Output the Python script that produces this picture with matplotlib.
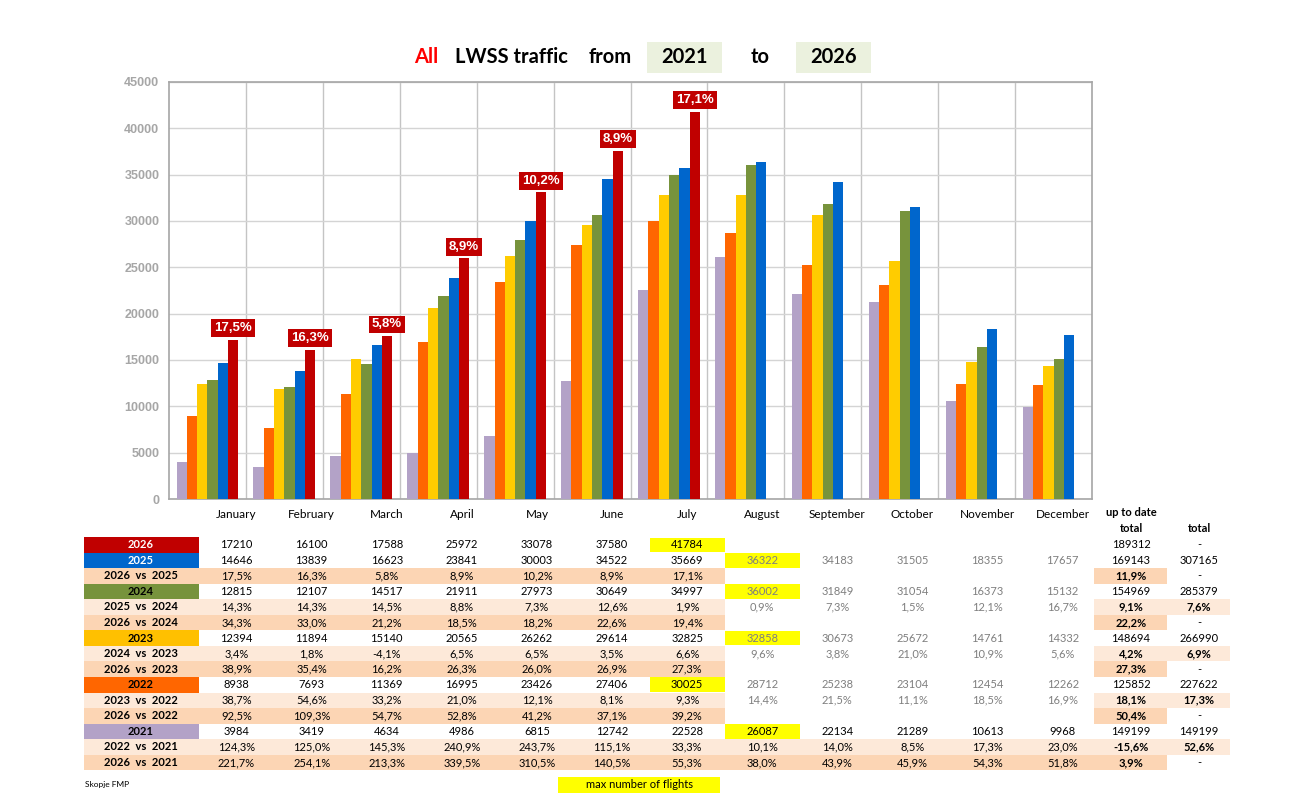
import numpy as np
import matplotlib
matplotlib.use('Agg')
import matplotlib.pyplot as plt
from matplotlib.patches import Rectangle

# ---- data ----
months = ['January', 'February', 'March', 'April', 'May', 'June', 'July',
          'August', 'September', 'October', 'November', 'December']
years = [2021, 2022, 2023, 2024, 2025, 2026]
v2021 = [3984, 3419, 4634, 4986, 6815, 12742, 22528, 26087, 22134, 21289, 10613, 9968]
v2022 = [8938, 7693, 11369, 16995, 23426, 27406, 30025, 28712, 25238, 23104, 12454, 12262]
v2023 = [12394, 11894, 15140, 20565, 26262, 29614, 32825, 32858, 30673, 25672, 14761, 14332]
v2024 = [12815, 12107, 14517, 21911, 27973, 30649, 34997, 36002, 31849, 31054, 16373, 15132]
v2025 = [14646, 13839, 16623, 23841, 30003, 34522, 35669, 36322, 34183, 31505, 18355, 17657]
v2026 = [17210, 16100, 17588, 25972, 33078, 37580, 41784]
series = [v2021, v2022, v2023, v2024, v2025, v2026]
colors = ['#B3A2C7', '#FF6600', '#FFCC00', '#77933C', '#0066CC', '#C00000']

utd_total = {2026: '189312', 2025: '169143', 2024: '154969', 2023: '148694', 2022: '125852', 2021: '149199'}
year_total = {2026: '-', 2025: '307165', 2024: '285379', 2023: '266990', 2022: '227622', 2021: '149199'}

p26_25 = ['17,5%', '16,3%', '5,8%', '8,9%', '10,2%', '8,9%', '17,1%']
p25_24 = ['14,3%', '14,3%', '14,5%', '8,8%', '7,3%', '12,6%', '1,9%', '0,9%', '7,3%', '1,5%', '12,1%', '16,7%']
p26_24 = ['34,3%', '33,0%', '21,2%', '18,5%', '18,2%', '22,6%', '19,4%']
p24_23 = ['3,4%', '1,8%', '-4,1%', '6,5%', '6,5%', '3,5%', '6,6%', '9,6%', '3,8%', '21,0%', '10,9%', '5,6%']
p26_23 = ['38,9%', '35,4%', '16,2%', '26,3%', '26,0%', '26,9%', '27,3%']
p23_22 = ['38,7%', '54,6%', '33,2%', '21,0%', '12,1%', '8,1%', '9,3%', '14,4%', '21,5%', '11,1%', '18,5%', '16,9%']
p26_22 = ['92,5%', '109,3%', '54,7%', '52,8%', '41,2%', '37,1%', '39,2%']
p22_21 = ['124,3%', '125,0%', '145,3%', '240,9%', '243,7%', '115,1%', '33,3%', '10,1%', '14,0%', '8,5%', '17,3%', '23,0%']
p26_21 = ['221,7%', '254,1%', '213,3%', '339,5%', '310,5%', '140,5%', '55,3%', '38,0%', '43,9%', '45,9%', '54,3%', '51,8%']
pct_utd = {'2026  vs  2025': '11,9%', '2025  vs  2024': '9,1%', '2026  vs  2024': '22,2%',
           '2024  vs  2023': '4,2%', '2026  vs  2023': '27,3%', '2023  vs  2022': '18,1%',
           '2026  vs  2022': '50,4%', '2022  vs  2021': '-15,6%', '2026  vs  2021': '3,9%'}
pct_tot = {'2025  vs  2024': '7,6%', '2024  vs  2023': '6,9%', '2023  vs  2022': '17,3%',
           '2022  vs  2021': '52,6%'}

W, H = 1312, 801
fig = plt.figure(figsize=(W / 100, H / 100), dpi=100)

# overlay in pixel coordinates for title and table
tab = fig.add_axes([0, 0, 1, 1])
tab.set_xlim(0, W)
tab.set_ylim(H, 0)
tab.axis('off')

TF = 'Lato'


def put(x, y, s, size=8, color='black', weight='normal', ha='center', family=TF):
    tab.text(x, y, s, fontsize=size, color=color, fontweight=weight, ha=ha, va='center',
             family=family)


def box(x0, y0, x1, y1, fc):
    tab.add_patch(Rectangle((x0, y0), x1 - x0, y1 - y0, fc=fc, ec='none', zorder=0))


# title
put(426, 57, 'All', 14.5, '#FF0000', 'bold')
put(455, 57, 'LWSS traffic', 14.5, 'black', 'bold', ha='left')
put(610, 57, 'from', 14.5, 'black', 'bold')
box(647, 42, 722, 73, '#EBF1DE')
put(685, 57, str(years[0]), 14.5, 'black', 'bold')
put(760, 57, 'to', 14.5, 'black', 'bold')
box(796, 42, 871, 73, '#EBF1DE')
put(834, 57, str(years[-1]), 14.5, 'black', 'bold')

# ---- chart ----
ax = fig.add_axes([169 / W, 1 - 499 / H, 923 / W, 417 / H])
x = np.arange(len(months))
bw = 0.134
for i, (vals, c) in enumerate(zip(series, colors)):
    ax.bar(x[:len(vals)] + (i - 2.5) * bw, vals, bw, color=c, zorder=3)

for i, (v, p) in enumerate(zip(v2026, p26_25)):
    ax.annotate(p, (x[i] + 2.5 * bw, v), xytext=(0, 4), textcoords='offset points',
                ha='center', va='bottom', color='white', fontsize=9.5, fontweight='bold',
                family='Liberation Sans', zorder=5,
                bbox=dict(boxstyle='square,pad=0.22', fc='#C00000', ec='none'))

ax.set_xlim(-0.5, 11.5)
ax.set_ylim(0, 45000)
ax.set_yticks(np.arange(0, 45001, 5000))
ax.set_xticks([])
ax.set_xticks(np.arange(0.5, 11.5, 1), minor=True)
ax.tick_params(axis='x', which='both', length=0)
ax.tick_params(axis='y', length=0, pad=7, labelcolor='#A6A6A6', labelsize=9)
for t in ax.get_yticklabels():
    t.set_fontweight('bold')
    t.set_family('Liberation Sans')
ax.grid(axis='y', color='#D4D4D4', lw=1, zorder=0)
ax.grid(axis='x', which='minor', color='#C4C4C4', lw=1, zorder=0)
for s in ax.spines.values():
    s.set_color('#A6A6A6')
    s.set_linewidth(1.2)
ax.patch.set_alpha(0)

# ---- table ----
col_l, col_w = 199, 75.1
cx = [col_l + col_w * (k + 0.5) for k in range(12)]
utd_x, tot_x = 1131, 1199
row_t, row_h = 537, 15.55
GREY = '#7F7F7F'
DARK, LIGHT = '#FCD5B4', '#FDE9D9'

for k, m in enumerate(months):
    put(cx[k], 514, m, 8.5)
put(utd_x, 513, 'up to date', 8, weight='bold')
put(utd_x, 529, 'total', 8, weight='bold')
put(tot_x, 529, 'total', 8, weight='bold')

# rows: (label, kind, values)
rows = [
    ('2026', 'year', v2026), ('2025', 'year', v2025), ('2026  vs  2025', 'dark', p26_25),
    ('2024', 'year', v2024), ('2025  vs  2024', 'light', p25_24), ('2026  vs  2024', 'dark', p26_24),
    ('2023', 'year', v2023), ('2024  vs  2023', 'light', p24_23), ('2026  vs  2023', 'dark', p26_23),
    ('2022', 'year', v2022), ('2023  vs  2022', 'light', p23_22), ('2026  vs  2022', 'dark', p26_22),
    ('2021', 'year', v2021), ('2022  vs  2021', 'light', p22_21), ('2026  vs  2021', 'dark', p26_21),
]
grey_rows = {'2025', '2024', '2023', '2022', '2025  vs  2024', '2024  vs  2023', '2023  vs  2022'}
ycol = dict(zip([str(y) for y in years], colors))
ycol['2023'] = '#FFC000'

for r, (lab, kind, vals) in enumerate(rows):
    y0 = row_t + r * row_h
    y1 = y0 + row_h
    yc = y0 + row_h / 2
    full = len(vals) == 12 and lab.endswith('2021')
    if kind == 'year':
        box(84, y0, 199, y1, ycol[lab])
        tc = 'white' if lab in ('2026', '2025') else 'black'
        put(141, yc, lab, 8, tc, 'bold')
        imax = int(np.argmax(vals))
        box(cx[imax] - col_w / 2, y0 + 0.5, cx[imax] + col_w / 2, y1 - 0.5, '#FFFF00')
        for k, v in enumerate(vals):
            c = GREY if (k >= 7 and lab in grey_rows) else 'black'
            put(cx[k], yc, str(v), 8, c)
        put(utd_x, yc, utd_total[int(lab)], 8)
        put(tot_x, yc, year_total[int(lab)], 8)
    else:
        fc = DARK if kind == 'dark' else LIGHT
        right = cx[11] + col_w / 2 if full else cx[6] + col_w / 2
        box(84, y0, right, y1, fc)
        if kind == 'dark':
            box(1094, y0, 1167, y1, fc)
        else:
            box(1094, y0, 1230, y1, fc)
        put(141, yc, lab, 8, weight='bold')
        for k, v in enumerate(vals):
            c = GREY if (k >= 7 and lab in grey_rows) else 'black'
            put(cx[k], yc, v, 8, c)
        put(utd_x, yc, pct_utd[lab], 8, weight='bold')
        put(tot_x, yc, pct_tot.get(lab, '-'), 8, weight='bold' if lab in pct_tot else 'normal')

# footer
put(85, 785, 'Skopje FMP', 6, ha='left')
box(558, 777, 720, 793, '#FFFF00')
put(639, 785, 'max number of flights', 8)

fig.savefig('out.png', dpi=100)
